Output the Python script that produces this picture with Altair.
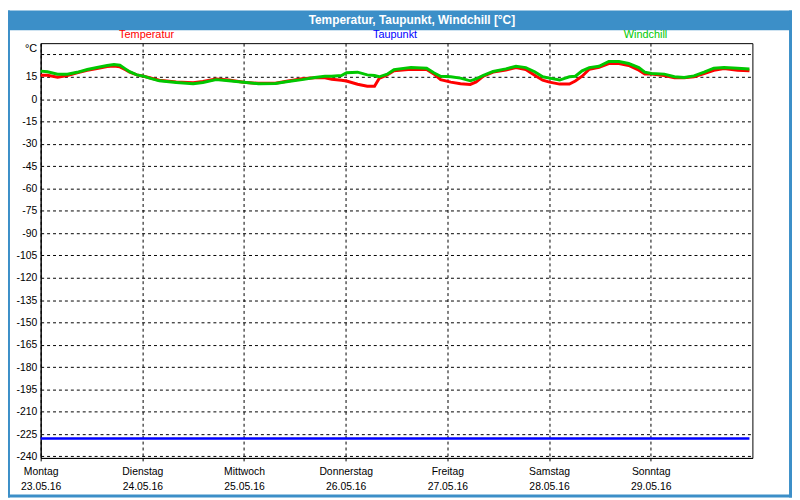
import json
import altair as alt
import pandas as pd

# ---- data ----
hours = [0, 1.6, 4.0, 6.3, 8.6, 11.0, 13.3, 15.7, 17.3, 18.7,
         19.9, 21.0, 22.7, 24.3, 25.7, 28.0, 32.0, 36.0, 38.3, 41.4,
         44.4, 47.9, 51.4, 55.4, 58.4, 61.7, 64.7, 67.1, 68.7, 71.0,
         72.2, 74.8, 77.1, 78.8, 79.9, 81.8, 83.4, 87.4, 91.1, 92.8,
         94.4, 96.8, 99.1, 101.4, 102.8, 104.5, 106.8, 109.8, 112.2, 114.5,
         116.6, 118.5, 120.1, 122.5, 124.8, 126.2, 127.8, 129.5, 131.8, 134.1,
         136.5, 138.8, 141.2, 142.6, 144.2, 147.2, 149.6, 151.9, 154.2, 156.6,
         158.9, 161.3, 164.5, 167.3]

temperatur = [16.1, 16.0, 14.7, 15.9, 17.7, 19.3, 20.5, 21.9, 22.3, 21.7,
              19.9, 18.2, 16.3, 15.4, 14.4, 12.7, 11.6, 11.0, 11.8, 13.5,
              12.9, 11.4, 10.6, 10.7, 12.2, 13.7, 14.3, 14.3, 13.4, 12.7,
              12.2, 10.0, 8.7, 8.7, 13.9, 16.3, 19.1, 20.1, 19.9, 16.9,
              13.1, 11.4, 10.3, 9.9, 11.6, 15.4, 18.2, 19.6, 21.2, 19.9,
              16.1, 12.7, 11.4, 10.1, 10.1, 12.2, 15.4, 20.1, 21.4, 23.9,
              23.9, 22.6, 19.4, 16.9, 16.9, 15.9, 14.3, 14.3, 15.0, 17.2,
              19.4, 20.5, 19.4, 19.0]

windchill = [18.8, 18.4, 16.7, 16.7, 18.0, 19.9, 21.2, 22.6, 23.3, 22.8,
             20.5, 18.4, 16.3, 15.4, 14.1, 12.3, 11.2, 10.3, 11.2, 13.1,
             12.4, 11.4, 10.3, 10.5, 11.8, 13.1, 14.5, 15.4, 15.4, 15.9,
             17.7, 18.1, 16.3, 15.9, 15.0, 16.7, 19.8, 21.2, 20.8, 17.7,
             15.4, 15.0, 14.1, 12.3, 13.6, 15.9, 18.6, 20.3, 22.1, 21.2,
             18.4, 15.0, 14.1, 12.8, 15.0, 15.4, 19.0, 21.2, 22.1, 25.3,
             25.3, 23.9, 21.2, 18.1, 17.2, 16.8, 15.0, 14.5, 15.6, 18.1,
             20.8, 21.2, 20.8, 20.3]

taupunkt_hours = [0, 167.3]
taupunkt = [-228, -228]

series = ["Temperatur", "Taupunkt", "Windchill"]
colors = ["#ff0000", "#0000ff", "#00c800"]

day_names = ["Montag", "Dienstag", "Mittwoch", "Donnerstag", "Freitag", "Samstag", "Sonntag"]
day_dates = ["23.05.16", "24.05.16", "25.05.16", "26.05.16", "27.05.16", "28.05.16", "29.05.16"]
x_ticks = [0, 24, 48, 72, 96, 120, 144]
y_ticks = [30, 15, 0, -15, -30, -45, -60, -75, -90, -105, -120, -135,
           -150, -165, -180, -195, -210, -225, -240]

title_text = "Temperatur, Taupunkt, Windchill [°C]"

# ---- tables ----
df_lines = pd.concat([
    pd.DataFrame({"h": hours, "v": temperatur, "s": "Temperatur"}),
    pd.DataFrame({"h": hours, "v": windchill, "s": "Windchill"}),
])
df_tau = pd.DataFrame({"h": taupunkt_hours, "v": taupunkt, "s": "Taupunkt"})

FONT = "Liberation Sans"
BLUE = "#3c8fc8"

day_labels = [f"{n}|{d}" for n, d in zip(day_names, day_dates)]
x_label_expr = "split(" + json.dumps(day_labels) + "[round(datum.value/24)], '|')"

x_enc = alt.X("h:Q",
              scale=alt.Scale(domain=[0, 168], nice=False, zero=False),
              axis=alt.Axis(values=x_ticks, tickCount=len(x_ticks) + 2, title=None,
                            labelExpr=x_label_expr,
                            grid=True, gridDash=[3, 3], gridColor="black", gridOpacity=1,
                            ticks=True, tickSize=3, tickColor="black",
                            labelPadding=6, labelBaseline="top", labelAlign="center",
                            labelFlush=False, labelOverlap=False, labelLineHeight=15,
                            domainColor="black", labelColor="black",
                            labelFont=FONT, labelFontSize=10.5))
y_enc = alt.Y("v:Q",
              scale=alt.Scale(domain=[-241, 37.6], nice=False, zero=False),
              axis=alt.Axis(values=y_ticks, tickCount=len(y_ticks) + 2,
                            title="°C", titleAngle=0, titleAlign="right",
                            titleX=-4, titleY=8, titleBaseline="alphabetic",
                            titleFontWeight="normal", titleFontSize=11, titleFont=FONT,
                            titleColor="black",
                            labelExpr="datum.value == 30 ? '' : '' + datum.value",
                            grid=True, gridDash=[3, 3], gridColor="black", gridOpacity=1,
                            ticks=False, labelPadding=4, labelOverlap=False,
                            domainColor="black", labelColor="black",
                            labelFont=FONT, labelFontSize=10.5))
color_enc = alt.Color("s:N", scale=alt.Scale(domain=series, range=colors), legend=None)

lines = alt.Chart(df_lines).mark_line(strokeWidth=3).encode(
    x=x_enc, y=y_enc, color=color_enc, order=alt.Order("h:Q"))
tau = alt.Chart(df_tau).mark_line(strokeWidth=2.6).encode(
    x="h:Q", y="v:Q", color=color_enc)

blank = alt.Data(values=[{}])

def frame_rect(x1, x2, y1, y2):
    return alt.Chart(blank).mark_rect(color=BLUE).encode(
        x=alt.value(x1), x2=alt.value(x2), y=alt.value(y1), y2=alt.value(y2))

title_bar = frame_rect(-33, 759, -33, -13)
left_border = frame_rect(-33, -31, -33, 459)
right_border = frame_rect(756, 759, -33, 459)
bottom_border = frame_rect(-33, 759, 456, 459)

title = alt.Chart(blank).mark_text(color="white", font=FONT, fontSize=12, fontWeight="bold",
                                   align="center", baseline="middle").encode(
    x=alt.value(375), y=alt.value(-23), text=alt.value(title_text))

legend_x = [107, 358, 611]
legend_layers = [
    alt.Chart(blank).mark_text(color=c, font=FONT, fontSize=11, align="center",
                               baseline="middle").encode(
        x=alt.value(lx), y=alt.value(-8), text=alt.value(s))
    for s, c, lx in zip(series, colors, legend_x)
]

chart = alt.layer(
    lines, tau, title_bar, left_border, right_border, bottom_border, title, *legend_layers
).properties(
    width=719, height=419,
    autosize=alt.AutoSizeParams(type="none"),
    padding={"left": 33, "top": 33, "right": 40, "bottom": 40},
    background="white",
).configure_view(stroke="black", strokeWidth=1, fill="white")

chart.save("out.html", embed_options={"renderer": "svg", "actions": False})
